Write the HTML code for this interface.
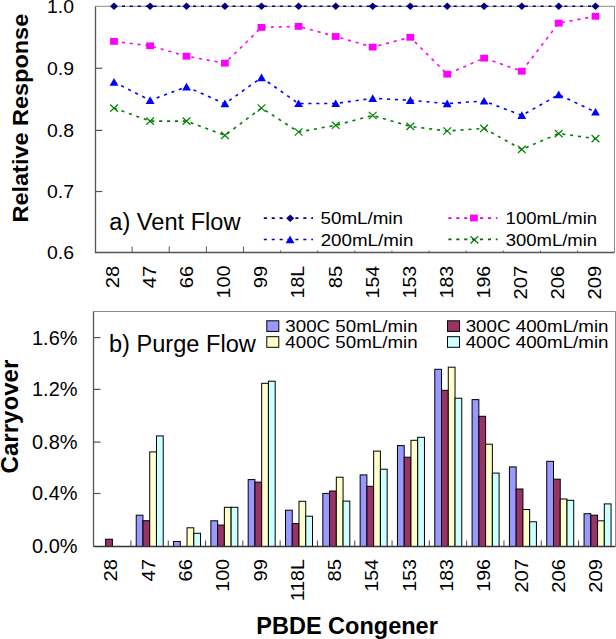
<!DOCTYPE html>
<html><head><meta charset="utf-8"><style>
html,body{margin:0;padding:0;background:#fff;}
svg{display:block;}
text{font-family:"Liberation Sans", sans-serif;fill:#000;}
</style></head><body>
<svg width="616" height="639" viewBox="0 0 616 639">
<rect width="616" height="639" fill="#fff"/>
<path d="M95.5,6.3 H614.5 V252.5" fill="none" stroke="#8c8c8c" stroke-width="1"/>
<path d="M95.5,6.3 V252.5 H614.5" fill="none" stroke="#555" stroke-width="1.3"/>
<line x1="95.5" y1="68.3" x2="102.3" y2="68.3" stroke="#555" stroke-width="1.2"/>
<line x1="95.5" y1="130.4" x2="102.3" y2="130.4" stroke="#555" stroke-width="1.2"/>
<line x1="95.5" y1="191.5" x2="102.3" y2="191.5" stroke="#555" stroke-width="1.2"/>
<line x1="132.12" y1="252.5" x2="132.12" y2="246.5" stroke="#555" stroke-width="1"/>
<line x1="169.24" y1="252.5" x2="169.24" y2="246.5" stroke="#555" stroke-width="1"/>
<line x1="206.36" y1="252.5" x2="206.36" y2="246.5" stroke="#555" stroke-width="1"/>
<line x1="243.48" y1="252.5" x2="243.48" y2="246.5" stroke="#555" stroke-width="1"/>
<line x1="280.60" y1="252.5" x2="280.60" y2="250.5" stroke="#555" stroke-width="1"/>
<line x1="317.72" y1="252.5" x2="317.72" y2="250.5" stroke="#555" stroke-width="1"/>
<line x1="354.84" y1="252.5" x2="354.84" y2="250.5" stroke="#555" stroke-width="1"/>
<line x1="391.96" y1="252.5" x2="391.96" y2="250.5" stroke="#555" stroke-width="1"/>
<line x1="429.08" y1="252.5" x2="429.08" y2="250.5" stroke="#555" stroke-width="1"/>
<line x1="466.20" y1="252.5" x2="466.20" y2="250.5" stroke="#555" stroke-width="1"/>
<line x1="503.32" y1="252.5" x2="503.32" y2="250.5" stroke="#555" stroke-width="1"/>
<line x1="540.44" y1="252.5" x2="540.44" y2="250.5" stroke="#555" stroke-width="1"/>
<line x1="577.56" y1="252.5" x2="577.56" y2="250.5" stroke="#555" stroke-width="1"/>
<path d="M114.00,108.10 L150.10,121.10 L186.50,121.10 L224.90,135.40 L261.50,108.00 L298.60,132.00 L335.70,125.30 L372.70,115.50 L410.30,126.40 L447.20,131.00 L484.10,128.40 L521.80,149.40 L558.70,133.60 L595.50,138.60" fill="none" stroke="#008000" stroke-width="1.6" stroke-dasharray="3.1 4.8"/>
<path d="M114.00,82.10 L150.10,100.30 L186.50,86.80 L224.90,103.70 L261.50,77.60 L298.60,103.50 L335.70,103.50 L372.70,98.30 L410.30,100.30 L447.20,103.60 L484.10,101.00 L521.80,115.40 L558.70,94.70 L595.50,112.00" fill="none" stroke="#0000ff" stroke-width="1.6" stroke-dasharray="3.1 4.8"/>
<path d="M114.00,41.40 L150.10,45.80 L186.50,56.20 L224.90,63.20 L261.50,27.40 L298.60,26.40 L335.70,36.50 L372.70,47.10 L410.30,37.30 L447.20,74.20 L484.10,58.10 L521.80,71.20 L558.70,23.10 L595.50,16.30" fill="none" stroke="#ff00ff" stroke-width="1.6" stroke-dasharray="3.1 4.8"/>
<path d="M114.00,6.30 L150.10,6.30 L186.50,6.30 L224.90,6.30 L261.50,6.30 L298.60,6.30 L335.70,6.30 L372.70,6.30 L410.30,6.30 L447.20,6.30 L484.10,6.30 L521.80,6.30 L558.70,6.30 L595.50,6.30" fill="none" stroke="#000080" stroke-width="1.6" stroke-dasharray="3.1 4.8"/>
<path d="M110.10,104.50 L117.90,111.70 M117.90,104.50 L110.10,111.70" stroke="#008000" stroke-width="1.2" fill="none"/>
<path d="M146.20,117.50 L154.00,124.70 M154.00,117.50 L146.20,124.70" stroke="#008000" stroke-width="1.2" fill="none"/>
<path d="M182.60,117.50 L190.40,124.70 M190.40,117.50 L182.60,124.70" stroke="#008000" stroke-width="1.2" fill="none"/>
<path d="M221.00,131.80 L228.80,139.00 M228.80,131.80 L221.00,139.00" stroke="#008000" stroke-width="1.2" fill="none"/>
<path d="M257.60,104.40 L265.40,111.60 M265.40,104.40 L257.60,111.60" stroke="#008000" stroke-width="1.2" fill="none"/>
<path d="M294.70,128.40 L302.50,135.60 M302.50,128.40 L294.70,135.60" stroke="#008000" stroke-width="1.2" fill="none"/>
<path d="M331.80,121.70 L339.60,128.90 M339.60,121.70 L331.80,128.90" stroke="#008000" stroke-width="1.2" fill="none"/>
<path d="M368.80,111.90 L376.60,119.10 M376.60,111.90 L368.80,119.10" stroke="#008000" stroke-width="1.2" fill="none"/>
<path d="M406.40,122.80 L414.20,130.00 M414.20,122.80 L406.40,130.00" stroke="#008000" stroke-width="1.2" fill="none"/>
<path d="M443.30,127.40 L451.10,134.60 M451.10,127.40 L443.30,134.60" stroke="#008000" stroke-width="1.2" fill="none"/>
<path d="M480.20,124.80 L488.00,132.00 M488.00,124.80 L480.20,132.00" stroke="#008000" stroke-width="1.2" fill="none"/>
<path d="M517.90,145.80 L525.70,153.00 M525.70,145.80 L517.90,153.00" stroke="#008000" stroke-width="1.2" fill="none"/>
<path d="M554.80,130.00 L562.60,137.20 M562.60,130.00 L554.80,137.20" stroke="#008000" stroke-width="1.2" fill="none"/>
<path d="M591.60,135.00 L599.40,142.20 M599.40,135.00 L591.60,142.20" stroke="#008000" stroke-width="1.2" fill="none"/>
<path d="M114.00,78.00 L118.40,85.70 L109.60,85.70Z" fill="#0000ff"/>
<path d="M150.10,96.20 L154.50,103.90 L145.70,103.90Z" fill="#0000ff"/>
<path d="M186.50,82.70 L190.90,90.40 L182.10,90.40Z" fill="#0000ff"/>
<path d="M224.90,99.60 L229.30,107.30 L220.50,107.30Z" fill="#0000ff"/>
<path d="M261.50,73.50 L265.90,81.20 L257.10,81.20Z" fill="#0000ff"/>
<path d="M298.60,99.40 L303.00,107.10 L294.20,107.10Z" fill="#0000ff"/>
<path d="M335.70,99.40 L340.10,107.10 L331.30,107.10Z" fill="#0000ff"/>
<path d="M372.70,94.20 L377.10,101.90 L368.30,101.90Z" fill="#0000ff"/>
<path d="M410.30,96.20 L414.70,103.90 L405.90,103.90Z" fill="#0000ff"/>
<path d="M447.20,99.50 L451.60,107.20 L442.80,107.20Z" fill="#0000ff"/>
<path d="M484.10,96.90 L488.50,104.60 L479.70,104.60Z" fill="#0000ff"/>
<path d="M521.80,111.30 L526.20,119.00 L517.40,119.00Z" fill="#0000ff"/>
<path d="M558.70,90.60 L563.10,98.30 L554.30,98.30Z" fill="#0000ff"/>
<path d="M595.50,107.90 L599.90,115.60 L591.10,115.60Z" fill="#0000ff"/>
<rect x="110.10" y="38.00" width="7.8" height="6.8" fill="#ff00ff"/>
<rect x="146.20" y="42.40" width="7.8" height="6.8" fill="#ff00ff"/>
<rect x="182.60" y="52.80" width="7.8" height="6.8" fill="#ff00ff"/>
<rect x="221.00" y="59.80" width="7.8" height="6.8" fill="#ff00ff"/>
<rect x="257.60" y="24.00" width="7.8" height="6.8" fill="#ff00ff"/>
<rect x="294.70" y="23.00" width="7.8" height="6.8" fill="#ff00ff"/>
<rect x="331.80" y="33.10" width="7.8" height="6.8" fill="#ff00ff"/>
<rect x="368.80" y="43.70" width="7.8" height="6.8" fill="#ff00ff"/>
<rect x="406.40" y="33.90" width="7.8" height="6.8" fill="#ff00ff"/>
<rect x="443.30" y="70.80" width="7.8" height="6.8" fill="#ff00ff"/>
<rect x="480.20" y="54.70" width="7.8" height="6.8" fill="#ff00ff"/>
<rect x="517.90" y="67.80" width="7.8" height="6.8" fill="#ff00ff"/>
<rect x="554.80" y="19.70" width="7.8" height="6.8" fill="#ff00ff"/>
<rect x="591.60" y="12.90" width="7.8" height="6.8" fill="#ff00ff"/>
<path d="M114.00,2.50 L118.00,6.30 L114.00,10.10 L110.00,6.30Z" fill="#000080"/>
<path d="M150.10,2.50 L154.10,6.30 L150.10,10.10 L146.10,6.30Z" fill="#000080"/>
<path d="M186.50,2.50 L190.50,6.30 L186.50,10.10 L182.50,6.30Z" fill="#000080"/>
<path d="M224.90,2.50 L228.90,6.30 L224.90,10.10 L220.90,6.30Z" fill="#000080"/>
<path d="M261.50,2.50 L265.50,6.30 L261.50,10.10 L257.50,6.30Z" fill="#000080"/>
<path d="M298.60,2.50 L302.60,6.30 L298.60,10.10 L294.60,6.30Z" fill="#000080"/>
<path d="M335.70,2.50 L339.70,6.30 L335.70,10.10 L331.70,6.30Z" fill="#000080"/>
<path d="M372.70,2.50 L376.70,6.30 L372.70,10.10 L368.70,6.30Z" fill="#000080"/>
<path d="M410.30,2.50 L414.30,6.30 L410.30,10.10 L406.30,6.30Z" fill="#000080"/>
<path d="M447.20,2.50 L451.20,6.30 L447.20,10.10 L443.20,6.30Z" fill="#000080"/>
<path d="M484.10,2.50 L488.10,6.30 L484.10,10.10 L480.10,6.30Z" fill="#000080"/>
<path d="M521.80,2.50 L525.80,6.30 L521.80,10.10 L517.80,6.30Z" fill="#000080"/>
<path d="M558.70,2.50 L562.70,6.30 L558.70,10.10 L554.70,6.30Z" fill="#000080"/>
<path d="M595.50,2.50 L599.50,6.30 L595.50,10.10 L591.50,6.30Z" fill="#000080"/>
<text x="74.00" y="13.10" font-size="19" textLength="27.00" lengthAdjust="spacingAndGlyphs" text-anchor="end">1.0</text>
<text x="74.00" y="75.10" font-size="19" textLength="27.00" lengthAdjust="spacingAndGlyphs" text-anchor="end">0.9</text>
<text x="74.00" y="137.20" font-size="19" textLength="27.00" lengthAdjust="spacingAndGlyphs" text-anchor="end">0.8</text>
<text x="74.00" y="198.30" font-size="19" textLength="27.00" lengthAdjust="spacingAndGlyphs" text-anchor="end">0.7</text>
<text x="74.00" y="259.30" font-size="19" textLength="27.00" lengthAdjust="spacingAndGlyphs" text-anchor="end">0.6</text>
<text x="109.30" y="230.00" font-size="23.5" textLength="131.20" lengthAdjust="spacingAndGlyphs">a) Vent Flow</text>
<line x1="263.8" y1="218.2" x2="313" y2="218.2" stroke="#000080" stroke-width="1.7" stroke-dasharray="3.1 4.8"/>
<path d="M290.20,214.40 L294.20,218.20 L290.20,222.00 L286.20,218.20Z" fill="#000080"/>
<line x1="263.8" y1="239.5" x2="313" y2="239.5" stroke="#0000cc" stroke-width="1.7" stroke-dasharray="3.1 4.8"/>
<path d="M290.10,235.60 L294.50,243.30 L285.70,243.30Z" fill="#0000ff"/>
<line x1="448.4" y1="218.1" x2="497.5" y2="218.1" stroke="#e000e0" stroke-width="1.7" stroke-dasharray="3.1 4.8"/>
<rect x="470.00" y="214.60" width="7.8" height="6.8" fill="#ff00ff"/>
<line x1="448.4" y1="239.4" x2="497.5" y2="239.4" stroke="#006400" stroke-width="1.7" stroke-dasharray="3.1 4.8"/>
<path d="M470.50,236.30 L478.30,243.50 M478.30,236.30 L470.50,243.50" stroke="#008000" stroke-width="1.2" fill="none"/>
<text x="320.50" y="223.70" font-size="16.5" textLength="82.50" lengthAdjust="spacingAndGlyphs">50mL/min</text>
<text x="320.70" y="245.60" font-size="16.5" textLength="92.70" lengthAdjust="spacingAndGlyphs">200mL/min</text>
<text x="505.60" y="223.70" font-size="16.5" textLength="91.50" lengthAdjust="spacingAndGlyphs">100mL/min</text>
<text x="505.70" y="245.60" font-size="16.5" textLength="91.40" lengthAdjust="spacingAndGlyphs">300mL/min</text>
<text x="118.86" y="265.70" font-size="18.5" textLength="22.50" lengthAdjust="spacingAndGlyphs" text-anchor="end" transform="rotate(-90 118.86 265.70)">28</text>
<text x="155.98" y="265.70" font-size="18.5" textLength="22.50" lengthAdjust="spacingAndGlyphs" text-anchor="end" transform="rotate(-90 155.98 265.70)">47</text>
<text x="193.10" y="265.70" font-size="18.5" textLength="22.50" lengthAdjust="spacingAndGlyphs" text-anchor="end" transform="rotate(-90 193.10 265.70)">66</text>
<text x="230.22" y="265.70" font-size="18.5" textLength="32.75" lengthAdjust="spacingAndGlyphs" text-anchor="end" transform="rotate(-90 230.22 265.70)">100</text>
<text x="267.34" y="265.70" font-size="18.5" textLength="22.50" lengthAdjust="spacingAndGlyphs" text-anchor="end" transform="rotate(-90 267.34 265.70)">99</text>
<text x="304.46" y="265.70" font-size="18.5" textLength="32.75" lengthAdjust="spacingAndGlyphs" text-anchor="end" transform="rotate(-90 304.46 265.70)">18L</text>
<text x="341.58" y="265.70" font-size="18.5" textLength="22.50" lengthAdjust="spacingAndGlyphs" text-anchor="end" transform="rotate(-90 341.58 265.70)">85</text>
<text x="378.70" y="265.70" font-size="18.5" textLength="32.75" lengthAdjust="spacingAndGlyphs" text-anchor="end" transform="rotate(-90 378.70 265.70)">154</text>
<text x="415.82" y="265.70" font-size="18.5" textLength="32.75" lengthAdjust="spacingAndGlyphs" text-anchor="end" transform="rotate(-90 415.82 265.70)">153</text>
<text x="452.94" y="265.70" font-size="18.5" textLength="32.75" lengthAdjust="spacingAndGlyphs" text-anchor="end" transform="rotate(-90 452.94 265.70)">183</text>
<text x="490.06" y="265.70" font-size="18.5" textLength="32.75" lengthAdjust="spacingAndGlyphs" text-anchor="end" transform="rotate(-90 490.06 265.70)">196</text>
<text x="527.18" y="265.70" font-size="18.5" textLength="33.75" lengthAdjust="spacingAndGlyphs" text-anchor="end" transform="rotate(-90 527.18 265.70)">207</text>
<text x="564.30" y="265.70" font-size="18.5" textLength="33.75" lengthAdjust="spacingAndGlyphs" text-anchor="end" transform="rotate(-90 564.30 265.70)">206</text>
<text x="601.42" y="265.70" font-size="18.5" textLength="33.75" lengthAdjust="spacingAndGlyphs" text-anchor="end" transform="rotate(-90 601.42 265.70)">209</text>
<text x="27.90" y="222.50" font-size="22.5" textLength="208.70" lengthAdjust="spacingAndGlyphs" font-weight="bold" transform="rotate(-90 27.90 222.50)">Relative Response</text>
<path d="M93.5,311.5 H615.5 V546.5" fill="none" stroke="#8c8c8c" stroke-width="1"/>
<rect x="105.65" y="539.20" width="6.75" height="7.30" fill="#993366" stroke="#000" stroke-width="1"/>
<rect x="136.22" y="515.20" width="6.75" height="31.30" fill="#9999ff" stroke="#000" stroke-width="1"/>
<rect x="142.97" y="520.70" width="6.75" height="25.80" fill="#993366" stroke="#000" stroke-width="1"/>
<rect x="149.72" y="451.90" width="6.75" height="94.60" fill="#ffffcc" stroke="#000" stroke-width="1"/>
<rect x="156.47" y="435.90" width="6.75" height="110.60" fill="#ccffff" stroke="#000" stroke-width="1"/>
<rect x="173.54" y="541.50" width="6.75" height="5.00" fill="#9999ff" stroke="#000" stroke-width="1"/>
<rect x="187.04" y="527.80" width="6.75" height="18.70" fill="#ffffcc" stroke="#000" stroke-width="1"/>
<rect x="193.79" y="533.30" width="6.75" height="13.20" fill="#ccffff" stroke="#000" stroke-width="1"/>
<rect x="210.86" y="520.80" width="6.75" height="25.70" fill="#9999ff" stroke="#000" stroke-width="1"/>
<rect x="217.61" y="525.10" width="6.75" height="21.40" fill="#993366" stroke="#000" stroke-width="1"/>
<rect x="224.36" y="507.30" width="6.75" height="39.20" fill="#ffffcc" stroke="#000" stroke-width="1"/>
<rect x="231.11" y="507.30" width="6.75" height="39.20" fill="#ccffff" stroke="#000" stroke-width="1"/>
<rect x="248.18" y="479.60" width="6.75" height="66.90" fill="#9999ff" stroke="#000" stroke-width="1"/>
<rect x="254.93" y="482.10" width="6.75" height="64.40" fill="#993366" stroke="#000" stroke-width="1"/>
<rect x="261.68" y="383.30" width="6.75" height="163.20" fill="#ffffcc" stroke="#000" stroke-width="1"/>
<rect x="268.43" y="381.20" width="6.75" height="165.30" fill="#ccffff" stroke="#000" stroke-width="1"/>
<rect x="285.50" y="510.20" width="6.75" height="36.30" fill="#9999ff" stroke="#000" stroke-width="1"/>
<rect x="292.25" y="523.50" width="6.75" height="23.00" fill="#993366" stroke="#000" stroke-width="1"/>
<rect x="299.00" y="501.30" width="6.75" height="45.20" fill="#ffffcc" stroke="#000" stroke-width="1"/>
<rect x="305.75" y="516.20" width="6.75" height="30.30" fill="#ccffff" stroke="#000" stroke-width="1"/>
<rect x="322.82" y="493.40" width="6.75" height="53.10" fill="#9999ff" stroke="#000" stroke-width="1"/>
<rect x="329.57" y="491.00" width="6.75" height="55.50" fill="#993366" stroke="#000" stroke-width="1"/>
<rect x="336.32" y="477.20" width="6.75" height="69.30" fill="#ffffcc" stroke="#000" stroke-width="1"/>
<rect x="343.07" y="501.10" width="6.75" height="45.40" fill="#ccffff" stroke="#000" stroke-width="1"/>
<rect x="360.14" y="474.90" width="6.75" height="71.60" fill="#9999ff" stroke="#000" stroke-width="1"/>
<rect x="366.89" y="486.30" width="6.75" height="60.20" fill="#993366" stroke="#000" stroke-width="1"/>
<rect x="373.64" y="451.10" width="6.75" height="95.40" fill="#ffffcc" stroke="#000" stroke-width="1"/>
<rect x="380.39" y="469.20" width="6.75" height="77.30" fill="#ccffff" stroke="#000" stroke-width="1"/>
<rect x="397.46" y="445.60" width="6.75" height="100.90" fill="#9999ff" stroke="#000" stroke-width="1"/>
<rect x="404.21" y="457.20" width="6.75" height="89.30" fill="#993366" stroke="#000" stroke-width="1"/>
<rect x="410.96" y="440.30" width="6.75" height="106.20" fill="#ffffcc" stroke="#000" stroke-width="1"/>
<rect x="417.71" y="437.30" width="6.75" height="109.20" fill="#ccffff" stroke="#000" stroke-width="1"/>
<rect x="434.78" y="369.30" width="6.75" height="177.20" fill="#9999ff" stroke="#000" stroke-width="1"/>
<rect x="441.53" y="390.30" width="6.75" height="156.20" fill="#993366" stroke="#000" stroke-width="1"/>
<rect x="448.28" y="367.20" width="6.75" height="179.30" fill="#ffffcc" stroke="#000" stroke-width="1"/>
<rect x="455.03" y="398.20" width="6.75" height="148.30" fill="#ccffff" stroke="#000" stroke-width="1"/>
<rect x="472.10" y="399.60" width="6.75" height="146.90" fill="#9999ff" stroke="#000" stroke-width="1"/>
<rect x="478.85" y="416.30" width="6.75" height="130.20" fill="#993366" stroke="#000" stroke-width="1"/>
<rect x="485.60" y="444.20" width="6.75" height="102.30" fill="#ffffcc" stroke="#000" stroke-width="1"/>
<rect x="492.35" y="473.10" width="6.75" height="73.40" fill="#ccffff" stroke="#000" stroke-width="1"/>
<rect x="509.42" y="466.90" width="6.75" height="79.60" fill="#9999ff" stroke="#000" stroke-width="1"/>
<rect x="516.17" y="489.00" width="6.75" height="57.50" fill="#993366" stroke="#000" stroke-width="1"/>
<rect x="522.92" y="509.50" width="6.75" height="37.00" fill="#ffffcc" stroke="#000" stroke-width="1"/>
<rect x="529.67" y="521.80" width="6.75" height="24.70" fill="#ccffff" stroke="#000" stroke-width="1"/>
<rect x="546.74" y="461.30" width="6.75" height="85.20" fill="#9999ff" stroke="#000" stroke-width="1"/>
<rect x="553.49" y="479.20" width="6.75" height="67.30" fill="#993366" stroke="#000" stroke-width="1"/>
<rect x="560.24" y="499.00" width="6.75" height="47.50" fill="#ffffcc" stroke="#000" stroke-width="1"/>
<rect x="566.99" y="500.30" width="6.75" height="46.20" fill="#ccffff" stroke="#000" stroke-width="1"/>
<rect x="584.06" y="513.70" width="6.75" height="32.80" fill="#9999ff" stroke="#000" stroke-width="1"/>
<rect x="590.81" y="515.20" width="6.75" height="31.30" fill="#993366" stroke="#000" stroke-width="1"/>
<rect x="597.56" y="520.80" width="6.75" height="25.70" fill="#ffffcc" stroke="#000" stroke-width="1"/>
<rect x="604.31" y="503.90" width="6.75" height="42.60" fill="#ccffff" stroke="#000" stroke-width="1"/>
<path d="M93.5,311.5 V546.5" fill="none" stroke="#555" stroke-width="1.3"/>
<path d="M93.5,546.5 H615.5" fill="none" stroke="#333" stroke-width="1.3"/>
<line x1="93.5" y1="337.6" x2="100.5" y2="337.6" stroke="#555" stroke-width="1.2"/>
<line x1="93.5" y1="389.4" x2="100.5" y2="389.4" stroke="#555" stroke-width="1.2"/>
<line x1="93.5" y1="442.1" x2="100.5" y2="442.1" stroke="#555" stroke-width="1.2"/>
<line x1="93.5" y1="493.5" x2="100.5" y2="493.5" stroke="#555" stroke-width="1.2"/>
<line x1="130.95" y1="546.5" x2="130.95" y2="540.5" stroke="#444" stroke-width="1"/>
<line x1="168.25" y1="546.5" x2="168.25" y2="540.5" stroke="#444" stroke-width="1"/>
<line x1="205.55" y1="546.5" x2="205.55" y2="540.5" stroke="#444" stroke-width="1"/>
<line x1="242.85" y1="546.5" x2="242.85" y2="540.5" stroke="#444" stroke-width="1"/>
<line x1="280.15" y1="546.5" x2="280.15" y2="540.5" stroke="#444" stroke-width="1"/>
<line x1="317.45" y1="546.5" x2="317.45" y2="540.5" stroke="#444" stroke-width="1"/>
<line x1="354.75" y1="546.5" x2="354.75" y2="540.5" stroke="#444" stroke-width="1"/>
<line x1="392.05" y1="546.5" x2="392.05" y2="540.5" stroke="#444" stroke-width="1"/>
<line x1="429.35" y1="546.5" x2="429.35" y2="540.5" stroke="#444" stroke-width="1"/>
<line x1="466.65" y1="546.5" x2="466.65" y2="540.5" stroke="#444" stroke-width="1"/>
<line x1="503.95" y1="546.5" x2="503.95" y2="540.5" stroke="#444" stroke-width="1"/>
<line x1="541.25" y1="546.5" x2="541.25" y2="540.5" stroke="#444" stroke-width="1"/>
<line x1="578.55" y1="546.5" x2="578.55" y2="540.5" stroke="#444" stroke-width="1"/>
<text x="77.50" y="344.50" font-size="19.5" textLength="45.50" lengthAdjust="spacingAndGlyphs" text-anchor="end">1.6%</text>
<text x="77.50" y="396.30" font-size="19.5" textLength="45.50" lengthAdjust="spacingAndGlyphs" text-anchor="end">1.2%</text>
<text x="77.50" y="449.00" font-size="19.5" textLength="45.50" lengthAdjust="spacingAndGlyphs" text-anchor="end">0.8%</text>
<text x="77.50" y="500.40" font-size="19.5" textLength="45.50" lengthAdjust="spacingAndGlyphs" text-anchor="end">0.4%</text>
<text x="77.50" y="552.90" font-size="19.5" textLength="45.50" lengthAdjust="spacingAndGlyphs" text-anchor="end">0.0%</text>
<text x="109.00" y="352.20" font-size="23.5" textLength="146.80" lengthAdjust="spacingAndGlyphs">b) Purge Flow</text>
<rect x="266.80" y="320.80" width="12" height="10.6" fill="#9999ff" stroke="#000" stroke-width="1"/>
<rect x="266.80" y="336.70" width="12" height="10.6" fill="#ffffcc" stroke="#000" stroke-width="1"/>
<rect x="447.50" y="320.80" width="12" height="10.6" fill="#993366" stroke="#000" stroke-width="1"/>
<rect x="447.50" y="336.70" width="12" height="10.6" fill="#ccffff" stroke="#000" stroke-width="1"/>
<text x="285.30" y="331.80" font-size="16.5" textLength="132.30" lengthAdjust="spacingAndGlyphs">300C 50mL/min</text>
<text x="285.30" y="347.80" font-size="16.5" textLength="132.30" lengthAdjust="spacingAndGlyphs">400C 50mL/min</text>
<text x="465.70" y="331.80" font-size="16.5" textLength="142.80" lengthAdjust="spacingAndGlyphs">300C 400mL/min</text>
<text x="465.70" y="347.80" font-size="16.5" textLength="142.80" lengthAdjust="spacingAndGlyphs">400C 400mL/min</text>
<text x="117.30" y="559.00" font-size="18.5" textLength="22.50" lengthAdjust="spacingAndGlyphs" text-anchor="end" transform="rotate(-90 117.30 559.00)">28</text>
<text x="154.60" y="559.00" font-size="18.5" textLength="22.50" lengthAdjust="spacingAndGlyphs" text-anchor="end" transform="rotate(-90 154.60 559.00)">47</text>
<text x="191.90" y="559.00" font-size="18.5" textLength="22.50" lengthAdjust="spacingAndGlyphs" text-anchor="end" transform="rotate(-90 191.90 559.00)">66</text>
<text x="229.20" y="559.00" font-size="18.5" textLength="32.75" lengthAdjust="spacingAndGlyphs" text-anchor="end" transform="rotate(-90 229.20 559.00)">100</text>
<text x="266.50" y="559.00" font-size="18.5" textLength="22.50" lengthAdjust="spacingAndGlyphs" text-anchor="end" transform="rotate(-90 266.50 559.00)">99</text>
<text x="303.80" y="559.00" font-size="18.5" textLength="42.30" lengthAdjust="spacingAndGlyphs" text-anchor="end" transform="rotate(-90 303.80 559.00)">118L</text>
<text x="341.10" y="559.00" font-size="18.5" textLength="22.50" lengthAdjust="spacingAndGlyphs" text-anchor="end" transform="rotate(-90 341.10 559.00)">85</text>
<text x="378.40" y="559.00" font-size="18.5" textLength="32.75" lengthAdjust="spacingAndGlyphs" text-anchor="end" transform="rotate(-90 378.40 559.00)">154</text>
<text x="415.70" y="559.00" font-size="18.5" textLength="32.75" lengthAdjust="spacingAndGlyphs" text-anchor="end" transform="rotate(-90 415.70 559.00)">153</text>
<text x="453.00" y="559.00" font-size="18.5" textLength="32.75" lengthAdjust="spacingAndGlyphs" text-anchor="end" transform="rotate(-90 453.00 559.00)">183</text>
<text x="490.30" y="559.00" font-size="18.5" textLength="32.75" lengthAdjust="spacingAndGlyphs" text-anchor="end" transform="rotate(-90 490.30 559.00)">196</text>
<text x="527.60" y="559.00" font-size="18.5" textLength="33.75" lengthAdjust="spacingAndGlyphs" text-anchor="end" transform="rotate(-90 527.60 559.00)">207</text>
<text x="564.90" y="559.00" font-size="18.5" textLength="33.75" lengthAdjust="spacingAndGlyphs" text-anchor="end" transform="rotate(-90 564.90 559.00)">206</text>
<text x="602.20" y="559.00" font-size="18.5" textLength="33.75" lengthAdjust="spacingAndGlyphs" text-anchor="end" transform="rotate(-90 602.20 559.00)">209</text>
<text x="18.30" y="473.40" font-size="23" textLength="113.70" lengthAdjust="spacingAndGlyphs" font-weight="bold" transform="rotate(-90 18.30 473.40)">Carryover</text>
<text x="256.30" y="633.60" font-size="23" textLength="181.50" lengthAdjust="spacingAndGlyphs" font-weight="bold">PBDE Congener</text>
</svg>
</body></html>
